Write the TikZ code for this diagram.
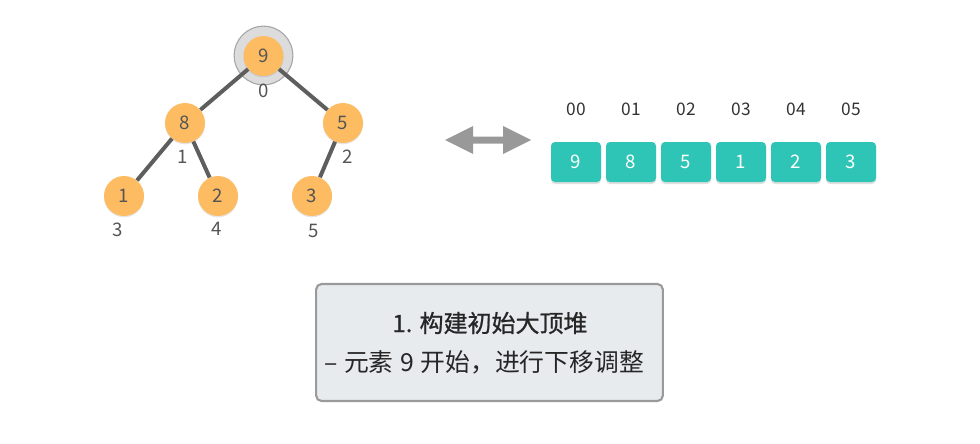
\documentclass[tikz,border=0pt]{standalone}
\usepackage{fontspec}
\setmainfont{Noto Sans CJK SC}
\newfontfamily\medfont[FakeBold=0.9]{Noto Sans CJK SC}
\usetikzlibrary{shadows}
\definecolor{orangenode}{HTML}{FDBC62}
\definecolor{teal}{HTML}{2FC5B6}
\definecolor{edgegray}{HTML}{5E5E5E}
\definecolor{halofill}{HTML}{DCDCDC}
\definecolor{haloline}{HTML}{A6A6A6}
\definecolor{txtgray}{HTML}{555555}
\definecolor{arrowgray}{HTML}{999999}
\definecolor{boxfill}{HTML}{E8EBEE}
\definecolor{boxline}{HTML}{9A9A9A}
\tikzset{
  treenode/.style={circle, fill=orangenode, minimum size=30pt, inner sep=0pt,
    text=txtgray, font=\fontsize{14pt}{16pt}\selectfont,
    drop shadow={shadow xshift=0pt, shadow yshift=-1pt, opacity=0.2}},
  halo/.style={circle, fill=halofill, draw=haloline, line width=0.8pt, minimum size=44pt, inner sep=0pt},
  idxlabel/.style={text=txtgray, font=\fontsize{14pt}{16pt}\selectfont, inner sep=0pt},
  edge/.style={draw=edgegray, line width=3pt},
  cell/.style={rectangle, rounded corners=3pt, fill=teal, minimum width=37.5pt, minimum height=30pt,
    inner sep=0pt, text=white, font=\fontsize{14pt}{16pt}\selectfont,
    drop shadow={shadow xshift=0pt, shadow yshift=-1.5pt, opacity=0.25}},
  arrlabel/.style={text=black!80, font=\fontsize{13pt}{15pt}\selectfont, inner sep=0pt},
  infobox/.style={rectangle, rounded corners=4pt, fill=boxfill, draw=boxline, line width=1.6pt,
    minimum width=260pt, minimum height=87.75pt, inner sep=0pt},
  infotext/.style={text=black!85, font=\fontsize{18pt}{20pt}\selectfont, inner sep=0pt}
}
\begin{document}
\begin{tikzpicture}[x=0.75pt,y=-0.75pt]
\useasboundingbox (0,0) rectangle (980,443);
% tree
\node[halo] (h9) at (263.5,55.5) {};
\node[treenode] (n9) at (263.5,56) {9};
\node[treenode] (n8) at (185,123) {8};
\node[treenode] (n5) at (343,123) {5};
\node[treenode] (n1) at (124,196) {1};
\node[treenode] (n2) at (218,196) {2};
\node[treenode] (n3) at (312,196) {3};
\draw[edge] (n9) -- (n8);
\draw[edge] (n9) -- (n5);
\draw[edge] (n8) -- (n1);
\draw[edge] (n8) -- (n2);
\draw[edge] (n5) -- (n3);
\node[idxlabel] (l0) at (264,91) {0};
\node[idxlabel] (l1) at (183,157) {1};
\node[idxlabel] (l2) at (348,157) {2};
\node[idxlabel] (l3) at (118,230) {3};
\node[idxlabel] (l4) at (217,229) {4};
\node[idxlabel] (l5) at (314,231) {5};
% double arrow
\fill[arrowgray] (445,140) -- (473,126) -- (473,136.5) -- (503,136.5) -- (503,126) -- (531,140)
  -- (503,154) -- (503,143.5) -- (473,143.5) -- (473,154) -- cycle;
% array
\foreach \i/\v/\l in {0/9/00,1/8/01,2/5/02,3/1/03,4/2/04,5/3/05}{
  \node[cell] (c\i) at ({576+55*\i},162) {\v};
  \node[arrlabel] (a\i) at ({576+55*\i},109) {\l};
}
% info box
\node[infobox] (box) at (489.5,342.5) {};
\node[infotext] (t1) at (490,323) {\medfont 1. 构建初始大顶堆};
\node[infotext, font=\fontsize{18.6pt}{20pt}\selectfont] (t2) at (484,362) {–\hspace{5pt}元素\hspace{5pt}9\hspace{5pt}开始，进行下移调整};
\end{tikzpicture}
\end{document}
